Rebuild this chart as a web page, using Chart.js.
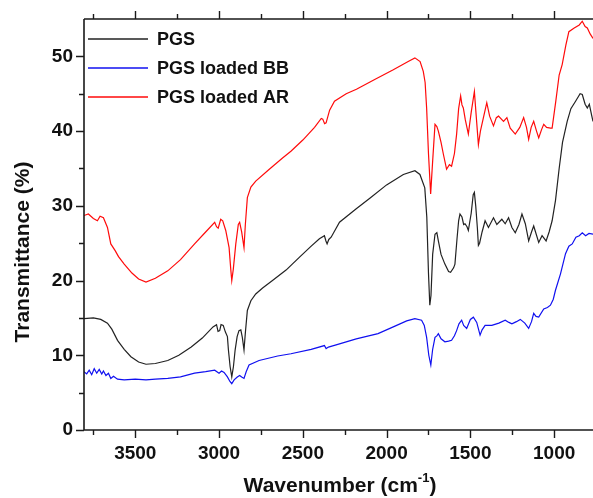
<!DOCTYPE html>
<html lang="en">
  <head>
    <meta charset="UTF-8" />
    <title>FTIR - PGS</title>
    <style>
      body {
        margin: 0;
        background-color: #ffffff;
      }
      .chart-container {
        width: 593px;
        height: 498px;
      }
    </style>
  </head>
  <body>
    <div class="chart-container">
      <canvas id="ftirChart"></canvas>
    </div>
    <script src="https://cdn.jsdelivr.net/npm/chart.js"></script>
    <script>
      // wavenumber (cm-1) and transmittance (%)
      const pgsWave = [
        3806, 3750, 3706, 3666, 3640, 3606, 3566, 3526, 3480, 3436, 3380, 3306,
        3240, 3166, 3100, 3036, 3015, 3006, 2996, 2988, 2975, 2962, 2950, 2944,
        2934, 2924, 2914, 2904, 2892, 2881, 2870, 2861, 2851, 2843, 2831, 2810,
        2781, 2740, 2681, 2600, 2521, 2450, 2401, 2371, 2362, 2355, 2345, 2331,
        2281, 2181, 2100, 2000, 1900, 1831, 1801, 1772, 1760, 1750, 1742, 1735,
        1725, 1711, 1700, 1691, 1675, 1652, 1630, 1618, 1600, 1592, 1580, 1570,
        1562, 1550, 1540, 1532, 1520, 1512, 1495, 1483, 1476, 1468, 1458, 1452,
        1445, 1430, 1412, 1392, 1362, 1342, 1312, 1292, 1272, 1252, 1232, 1210,
        1192, 1172, 1152, 1135, 1122, 1092, 1072, 1048, 1030, 1012, 992, 970,
        950, 922, 900, 872, 845, 832, 815, 802, 790, 775, 768,
      ];
      const pgsValues = [
        14.9, 15.0, 14.8, 14.3, 13.5, 12.0, 10.8, 9.8, 9.1, 8.8, 8.9, 9.3,
        10.0, 11.1, 12.3, 13.8, 14.1, 13.2, 13.3, 14.1, 14.0, 13.1, 12.5, 10.7,
        8.5, 7.1, 8.5, 10.7, 12.5, 13.3, 13.4, 12.4, 10.7, 13.0, 16.0, 17.3,
        18.2, 19.0, 20.0, 21.4, 23.1, 24.6, 25.6, 26.0, 25.3, 24.9, 25.5, 25.8,
        27.8, 29.6, 31.0, 32.8, 34.2, 34.7, 34.2, 32.4, 28.5, 21.0, 16.7, 18.0,
        23.5, 26.2, 26.4, 25.3, 23.5, 22.2, 21.2, 21.1, 21.7, 22.2, 25.5, 28.0,
        28.9, 28.5, 27.5, 27.6, 27.2, 26.7, 29.0, 31.5, 31.8, 30.0, 27.0, 24.7,
        25.0, 26.5, 28.0, 27.1, 28.4, 27.5, 28.2, 27.6, 28.4, 27.1, 26.4, 27.5,
        28.9, 27.6, 25.3, 26.5, 27.3, 25.1, 26.0, 25.3, 26.5, 28.0, 30.7, 35.0,
        38.5, 41.3, 43.0, 44.0, 45.0, 44.9, 43.6, 43.1, 43.6, 42.0, 41.3,
      ];

      const bbWave = [
        3806, 3790, 3775, 3760, 3745, 3730, 3715, 3700, 3690, 3675, 3660, 3646,
        3630, 3606, 3566, 3500, 3436, 3380, 3306, 3230, 3146, 3080, 3026, 3000,
        2985, 2970, 2950, 2935, 2924, 2910, 2891, 2877, 2865, 2851, 2838, 2821,
        2761, 2650, 2571, 2450, 2371, 2361, 2347, 2301, 2181, 2051, 1950, 1880,
        1831, 1791, 1775, 1761, 1748, 1736, 1725, 1711, 1700, 1691, 1675, 1652,
        1630, 1612, 1595, 1582, 1568, 1552, 1540, 1522, 1500, 1482, 1462, 1442,
        1430, 1412, 1372, 1330, 1292, 1270, 1252, 1225, 1202, 1175, 1152, 1135,
        1122, 1108, 1092, 1062, 1040, 1022, 1005, 992, 962, 932, 912, 892, 870,
        850, 832, 812, 792, 768,
      ];
      const bbValues = [
        7.8, 7.5, 8.0, 7.4, 8.2, 7.6, 8.1, 7.5, 7.9, 7.3, 7.6, 6.9,
        7.2, 6.8, 6.7, 6.8, 6.7, 6.8, 6.9, 7.1, 7.6, 7.8, 8.0, 7.6,
        7.9, 7.7, 7.1, 6.5, 6.2, 6.7, 7.1, 7.3, 7.1, 6.9, 7.8, 8.7,
        9.3, 9.9, 10.2, 10.8, 11.3, 10.9, 11.1, 11.4, 12.2, 12.9, 13.9, 14.6,
        14.9, 14.7, 14.0, 12.4, 10.0, 8.7, 10.8, 12.4, 12.6, 12.9, 12.2, 11.8,
        11.9, 12.0, 12.6, 13.3, 14.2, 14.7, 14.0, 13.6, 14.8, 15.1, 14.4, 12.7,
        13.4, 14.0, 14.0, 14.3, 14.7, 14.4, 14.2, 14.5, 14.8, 14.3, 13.6, 14.5,
        15.6, 15.2, 15.1, 16.2, 16.4, 16.7, 17.5, 18.7, 20.9, 23.6, 24.6, 24.9, 25.8,
        26.0, 26.4, 26.0, 26.3, 26.2,
      ];

      const arWave = [
        3806, 3780, 3750, 3726, 3710, 3690, 3666, 3646, 3620, 3600, 3566, 3520,
        3480, 3436, 3380, 3306, 3230, 3146, 3080, 3026, 3015, 3005, 2990, 2978,
        2960, 2940, 2930, 2924, 2915, 2900, 2885, 2877, 2865, 2851, 2843, 2831,
        2810, 2781, 2700, 2621, 2571, 2500, 2430, 2390, 2381, 2370, 2361, 2340,
        2311, 2241, 2180, 2071, 1960, 1871, 1831, 1800, 1781, 1770, 1761, 1750,
        1737, 1725, 1711, 1700, 1691, 1675, 1661, 1642, 1625, 1612, 1595, 1582,
        1570, 1558, 1550, 1542, 1530, 1512, 1495, 1476, 1465, 1452, 1440, 1420,
        1402, 1385, 1362, 1345, 1332, 1302, 1282, 1262, 1232, 1205, 1182, 1165,
        1152, 1137, 1122, 1105, 1092, 1075, 1062, 1045, 1022, 1012, 990, 970,
        952, 930, 912, 880, 850, 832, 815, 802, 785, 768,
      ];
      const arValues = [
        28.7, 28.9, 28.3, 28.0, 28.6, 28.4, 27.1, 24.9, 24.0, 23.2, 22.2, 21.0,
        20.2, 19.8, 20.3, 21.3, 22.8, 24.9, 26.5, 27.8, 27.2, 27.0, 28.2, 28.0,
        26.7, 24.4, 21.5, 20.0, 21.5, 24.9, 27.5, 27.8, 26.5, 24.4, 27.5, 31.1,
        32.5, 33.3, 34.9, 36.4, 37.3, 38.8, 40.5, 41.7, 41.6, 41.0, 41.1, 42.8,
        44.0, 45.0, 45.6, 46.9, 48.2, 49.3, 49.8, 49.3, 48.0, 46.5, 43.1, 37.0,
        31.6, 36.0, 40.9, 40.6, 40.0, 38.5, 36.9, 34.9, 35.5, 35.3, 37.0, 39.6,
        43.0, 44.7, 43.5, 43.1, 41.5, 39.6, 42.5, 45.3, 42.0, 38.2, 40.0, 42.0,
        43.8, 42.0, 40.7, 41.8, 42.0, 41.3, 41.8, 40.4, 39.6, 40.5, 41.8, 40.5,
        38.9, 40.5, 41.3, 40.0, 39.1, 40.2, 40.9, 40.5, 40.4, 40.4, 44.0, 47.5,
        48.9, 51.5, 53.3, 53.8, 54.2, 54.7, 54.0, 53.8, 53.0, 52.4,
      ];

      const seriesNames = ["PGS", "PGS loaded BB", "PGS loaded AR"];
      const xTickLabels = [3500, 3000, 2500, 2000, 1500, 1000];
      const xMinorTicks = [3750, 3250, 2750, 2250, 1750, 1250];
      const yTickLabels = [0, 10, 20, 30, 40, 50];
      const yMinorTicks = [5, 15, 25, 35, 45];

      const toPoints = (xs, ys) => xs.map((x, i) => ({ x: x, y: ys[i] }));

      const FONT = "'Liberation Sans', Arial, sans-serif";

      // frame, outward ticks, legend and axis titles
      const decorPlugin = {
        id: "decor",
        afterDraw(chart) {
          const ctx = chart.ctx;
          const area = chart.chartArea;
          const xs = chart.scales.x;
          const ys = chart.scales.y;
          ctx.save();
          ctx.strokeStyle = "#1a1a1a";
          ctx.lineWidth = 1.6;
          ctx.beginPath();
          ctx.moveTo(area.left, area.top);
          ctx.lineTo(area.left, area.bottom);
          ctx.lineTo(area.right, area.bottom);
          ctx.moveTo(area.left, area.top);
          ctx.lineTo(area.right, area.top);
          ctx.stroke();

          ctx.lineWidth = 1.4;
          ctx.beginPath();
          const xAll = xTickLabels.map((v) => [v, 8]).concat(xMinorTicks.map((v) => [v, 5]));
          xAll.forEach(([v, len]) => {
            const px = Math.round(xs.getPixelForValue(v)) + 0.5;
            ctx.moveTo(px, area.bottom);
            ctx.lineTo(px, area.bottom + len);
            ctx.moveTo(px, area.top);
            ctx.lineTo(px, area.top - len);
          });
          const yAll = yTickLabels.map((v) => [v, 8]).concat(yMinorTicks.map((v) => [v, 5]));
          yAll.forEach(([v, len]) => {
            const py = Math.round(ys.getPixelForValue(v)) + 0.5;
            ctx.moveTo(area.left, py);
            ctx.lineTo(area.left - len, py);
          });
          ctx.stroke();

          // legend inside the plot
          ctx.font = "bold 18px " + FONT;
          ctx.textBaseline = "middle";
          ctx.textAlign = "left";
          chart.data.datasets.forEach((ds, i) => {
            const y = 39 + i * 29;
            ctx.strokeStyle = ds.borderColor;
            ctx.lineWidth = 1.3;
            ctx.beginPath();
            ctx.moveTo(88, y);
            ctx.lineTo(148, y);
            ctx.stroke();
            ctx.fillStyle = "#111";
            ctx.fillText(ds.label, 157, y + 1);
          });

          // axis titles
          ctx.fillStyle = "#111";
          ctx.font = "bold 21px " + FONT;
          ctx.save();
          ctx.translate(23, 252);
          ctx.rotate(-Math.PI / 2);
          ctx.textAlign = "center";
          ctx.textBaseline = "middle";
          ctx.fillText("Transmittance (%)", 0, 0);
          ctx.restore();

          const main = "Wavenumber (cm";
          const sup = "-1";
          const tail = ")";
          ctx.font = "bold 21px " + FONT;
          const w1 = ctx.measureText(main).width;
          const w3 = ctx.measureText(tail).width;
          ctx.font = "bold 13px " + FONT;
          const w2 = ctx.measureText(sup).width;
          const x0 = 340 - (w1 + w2 + w3) / 2;
          ctx.textAlign = "left";
          ctx.textBaseline = "alphabetic";
          ctx.font = "bold 21px " + FONT;
          ctx.fillText(main, x0, 492);
          ctx.font = "bold 13px " + FONT;
          ctx.fillText(sup, x0 + w1, 482);
          ctx.font = "bold 21px " + FONT;
          ctx.fillText(tail, x0 + w1 + w2, 492);
          ctx.restore();
        },
      };

      const lineStyle = {
        showLine: true,
        pointRadius: 0,
        borderWidth: 1.2,
        tension: 0,
        fill: false,
      };

      const ftirChart = new Chart(document.getElementById("ftirChart"), {
        type: "scatter",
        data: {
          datasets: [
            Object.assign({ label: seriesNames[0], data: toPoints(pgsWave, pgsValues), borderColor: "#222222" }, lineStyle),
            Object.assign({ label: seriesNames[1], data: toPoints(bbWave, bbValues), borderColor: "#1010f0" }, lineStyle),
            Object.assign({ label: seriesNames[2], data: toPoints(arWave, arValues), borderColor: "#ff0a0a" }, lineStyle),
          ],
        },
        options: {
          responsive: true,
          maintainAspectRatio: false,
          animation: false,
          layout: { padding: { top: 19, right: 0, left: 0, bottom: 0 } },
          plugins: {
            legend: { display: false },
            tooltip: { enabled: false },
          },
          scales: {
            x: {
              type: "linear",
              reverse: true,
              min: 768,
              max: 3806,
              grid: { color: "transparent", drawOnChartArea: false, tickLength: 8 },
              border: { display: false },
              afterBuildTicks: (scale) => {
                scale.ticks = xTickLabels.map((v) => ({ value: v }));
              },
              afterFit: (scale) => { scale.height = 68; },
              ticks: {
                autoSkip: false,
                maxRotation: 0,
                padding: 4,
                color: "#111",
                font: { family: FONT, size: 19, weight: "bold" },
                callback: (v) => String(v),
              },
            },
            y: {
              min: 0,
              max: 55,
              grid: { color: "transparent", drawOnChartArea: false, tickLength: 8 },
              border: { display: false },
              afterBuildTicks: (scale) => {
                scale.ticks = yTickLabels.map((v) => ({ value: v }));
              },
              afterFit: (scale) => { scale.width = 84; },
              ticks: {
                autoSkip: false,
                padding: 3,
                color: "#111",
                font: { family: FONT, size: 19, weight: "bold" },
                callback: (v) => String(v),
              },
            },
          },
        },
        plugins: [decorPlugin],
      });
    </script>
  </body>
</html>
